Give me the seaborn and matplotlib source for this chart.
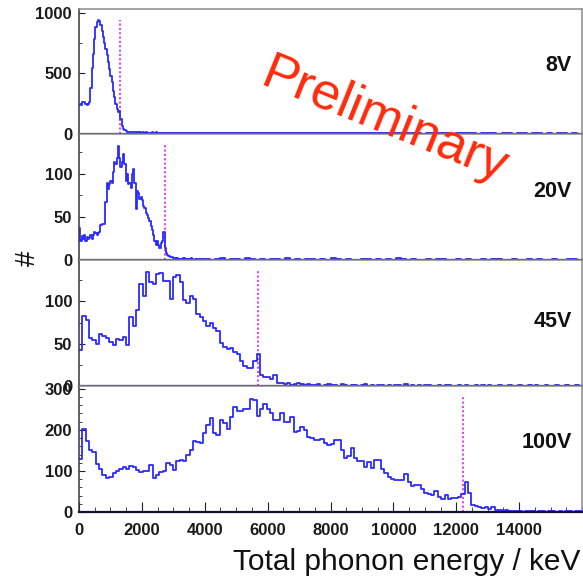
import numpy as np
import pandas as pd
import seaborn as sns
import matplotlib
matplotlib.use("Agg")
import matplotlib.pyplot as plt
from matplotlib.ticker import MultipleLocator, FixedLocator

sns.set_style("white")
plt.rcParams["font.family"] = ["Liberation Sans", "DejaVu Sans"]

# ---------------------------------------------------------------------------
# Spectra: counts per bin of total phonon energy (keV)
# 8V / 20V: 40 keV bins up to 4 MeV, 160 keV bins above
# 45V / 100V: 150 uniform bins over 0-16 MeV
# ---------------------------------------------------------------------------
voltages = ["8V", "20V", "45V", "100V"]

counts_8v_low = [
    235, 240, 262, 265, 262, 248, 240, 244, 262, 380,
    540, 660, 780, 880, 925, 942, 930, 900, 850, 800,
    750, 705, 650, 590, 535, 475, 425, 355, 300, 245,
    200, 180, 190, 120, 65, 40, 28, 20, 16, 14,
    12, 11, 10, 12, 9, 10, 8, 9, 11, 8,
    7, 9, 8, 10, 7, 6, 8, 7, 9, 6,
    7, 12, 8, 6, 7, 5, 6, 8, 5, 6,
    7, 5, 4, 6, 5, 7, 4, 5, 6, 4,
    5, 4, 6, 3, 5, 4, 3, 5, 4, 3,
    4, 5, 3, 4, 3, 4, 2, 3, 4, 3,
]
counts_8v_high = [
    4, 3, 4, 3, 5, 3, 2, 3, 4, 2, 3, 3, 2, 4, 2,
    3, 2, 2, 3, 2, 1, 3, 2, 2, 1, 2, 3, 1, 2, 2,
    1, 2, 1, 2, 3, 1, 2, 1, 1, 2, 1, 2, 1, 0, 2,
    1, 1, 2, 1, 0, 1, 2, 1, 1, 0, 1, 2, 1, 0, 1,
    1, 0, 2, 1, 0, 1, 1, 0, 1, 0, 1, 1, 0, 1, 0,
]

counts_20v_low = [
    37, 22, 28, 24, 29, 22, 27, 24, 26, 29,
    24, 29, 33, 31, 29, 31, 33, 41, 42, 42,
    42, 67, 90, 82, 88, 92, 90, 102, 114, 112,
    118, 133, 118, 108, 114, 123, 112, 92, 100, 88,
    90, 84, 100, 106, 90, 59, 80, 78, 71, 73,
    70, 63, 60, 55, 52, 49, 45, 40, 35, 29,
    22, 18, 22, 17, 14, 20, 22, 33, 14, 8,
    6, 5, 4, 3, 3, 2, 2, 1, 2, 1,
    1, 0, 1, 2, 1, 0, 1, 1, 0, 2,
    1, 0, 1, 0, 1, 1, 0, 1, 0, 1,
]
counts_20v_high = [
    1, 0, 1, 2, 0, 1, 1, 0, 2, 1, 0, 1, 0, 1, 1,
    0, 2, 0, 1, 0, 1, 1, 0, 1, 0, 2, 1, 0, 1, 0,
    0, 1, 1, 0, 1, 0, 1, 0, 2, 1, 0, 1, 0, 0, 1,
    0, 1, 1, 0, 0, 1, 0, 1, 0, 0, 1, 0, 1, 1, 0,
    0, 1, 0, 0, 1, 0, 1, 0, 0, 1, 0, 0, 1, 1, 0,
]

counts_45v = [
    42, 83, 78, 57, 54, 50, 62, 59, 57, 52,
    48, 55, 54, 58, 48, 82, 71, 90, 121, 106,
    135, 123, 121, 132, 134, 124, 124, 103, 129, 131,
    123, 102, 98, 106, 103, 85, 82, 77, 71, 74,
    69, 65, 51, 46, 44, 45, 40, 38, 29, 24,
    21, 21, 30, 38, 13, 11, 11, 8, 13, 3,
    3, 2, 3, 1, 2, 3, 2, 1, 2, 1,
    1, 2, 0, 1, 2, 1, 1, 0, 2, 1,
    0, 1, 1, 0, 1, 2, 0, 1, 0, 1,
    1, 0, 1, 0, 1, 1, 0, 2, 0, 1,
    0, 1, 0, 1, 1, 0, 0, 1, 0, 1,
    1, 0, 0, 1, 0, 1, 0, 0, 1, 0,
    1, 0, 1, 0, 0, 1, 0, 0, 1, 0,
    0, 1, 0, 0, 1, 0, 1, 0, 0, 1,
    0, 0, 1, 0, 0, 1, 0, 0, 1, 0,
]

counts_100v = [
    130, 202, 172, 150, 147, 118, 104, 90, 84, 86,
    94, 101, 104, 110, 104, 112, 109, 102, 98, 101,
    101, 115, 82, 90, 98, 101, 119, 115, 102, 124,
    127, 125, 139, 151, 174, 170, 167, 193, 212, 228,
    193, 188, 224, 216, 202, 232, 256, 245, 247, 250,
    250, 276, 272, 234, 250, 263, 250, 241, 225, 223,
    241, 220, 220, 231, 196, 198, 208, 200, 182, 180,
    176, 175, 177, 167, 163, 165, 176, 176, 151, 131,
    137, 155, 131, 124, 124, 109, 123, 107, 127, 127,
    104, 94, 86, 80, 78, 78, 78, 93, 74, 63,
    66, 66, 55, 47, 45, 41, 50, 37, 31, 41,
    31, 33, 33, 36, 45, 74, 46, 18, 15, 13,
    9, 13, 7, 11, 5, 6, 3, 4, 2, 3,
    2, 3, 1, 2, 3, 2, 1, 2, 2, 1,
    3, 2, 1, 2, 1, 3, 2, 1, 2, 3,
]

# expected full-charge line position for each bias (keV)
line_kev = [1305, 2730, 5700, 12220]

y_max = [1033, 147, 149, 307]
y_major = [500, 50, 50, 100]
y_minor = [250, 25, 25, 20]

x_ticks = [0, 2000, 4000, 6000, 8000, 10000, 12000, 14000]
X_MAX = 16000

# bin edges
edges_split = np.concatenate([np.arange(0, 4000, 40), np.arange(4000, X_MAX + 1, 160)])
edges_uniform = np.linspace(0, X_MAX, 151)

spectra = [
    (counts_8v_low + counts_8v_high, edges_split),
    (counts_20v_low + counts_20v_high, edges_split),
    (counts_45v, edges_uniform),
    (counts_100v, edges_uniform),
]

BLUE = "#2b2bff"
MAGENTA = "#e633f0"
TICK_FS = 12

fig = plt.figure(figsize=(5.83, 5.83), dpi=100)
fig.patch.set_facecolor("white")

# panel boundaries in figure fraction (top to bottom)
bounds = [0.9846, 0.7710, 0.5540, 0.3379, 0.1218]
left, width = 0.1355, 0.8628
label_y = [0.55, 0.54, 0.51, 0.553]

for i, (name, (counts, edges)) in enumerate(zip(voltages, spectra)):
    top, bottom = bounds[i], bounds[i + 1]
    ax = fig.add_axes([left, bottom, width, top - bottom])
    df = pd.DataFrame({"energy": 0.5 * (edges[:-1] + edges[1:]),
                       "count": counts})
    sns.histplot(data=df, x="energy", weights="count", bins=edges.tolist(),
                 element="step", fill=False, color=BLUE, linewidth=1.3, ax=ax)
    ax.axvline(line_kev[i], ymin=0, ymax=0.91, color=MAGENTA,
               linestyle=(0, (1.2, 1.2)), linewidth=1.3, zorder=1.5)
    ax.set_xlim(0, X_MAX)
    ax.set_ylim(0, y_max[i])
    ax.set_xlabel("")
    ax.set_ylabel("")

    ax.yaxis.set_major_locator(MultipleLocator(y_major[i]))
    ax.yaxis.set_minor_locator(MultipleLocator(y_minor[i]))
    ax.tick_params(axis="y", which="major", direction="in", length=4,
                   width=0.8, pad=5, labelsize=TICK_FS, left=True,
                   colors="#222222")
    ax.tick_params(axis="y", which="minor", direction="in", length=2.5,
                   width=0.7, left=True, colors="#444444")
    for lab in ax.get_yticklabels():
        lab.set_fontweight("bold")
        lab.set_color("#1a1a1a")

    if i < 3:
        ax.tick_params(axis="x", which="both", bottom=False, labelbottom=False)
    else:
        ax.xaxis.set_major_locator(FixedLocator(x_ticks))
        ax.xaxis.set_minor_locator(MultipleLocator(500))
        ax.tick_params(axis="x", which="major", direction="in", length=7,
                       width=0.8, pad=8, labelsize=TICK_FS, bottom=True,
                       colors="#222222")
        ax.tick_params(axis="x", which="minor", direction="in", length=3.5,
                       width=0.7, bottom=True, colors="#444444")
        for lab in ax.get_xticklabels():
            lab.set_fontweight("bold")
            lab.set_color("#1a1a1a")

    ax.spines["bottom"].set_color("#111133")
    ax.spines["bottom"].set_linewidth(1.6)
    ax.spines["left"].set_color("#3a3340")
    ax.spines["left"].set_linewidth(1.1)
    for side in ("top", "right"):
        ax.spines[side].set_color("#8a8a8a")
        ax.spines[side].set_linewidth(1.1)
    ax.set_facecolor("white")

    ax.text(0.98, label_y[i], name, transform=ax.transAxes,
            ha="right", va="center", fontsize=15.5, fontweight="bold",
            color="#111111")

fig.text(0.048, 0.557, "#", rotation=90, ha="center", va="center",
         fontsize=20, color="#111111")
fig.text(0.995, 0.022, "Total phonon energy / keV", ha="right",
         va="baseline", fontsize=21.5, color="#111111")
fig.text(0.660, 0.7925, "Preliminary", rotation=-22, rotation_mode="anchor",
         ha="center", va="center", fontsize=37.5, color="#ff2a0a")

fig.savefig("out.png", dpi=100, facecolor="white")
